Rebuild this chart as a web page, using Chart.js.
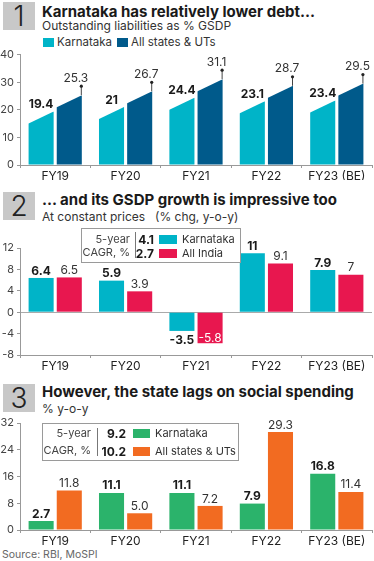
<!DOCTYPE html>
<html>
<head>
<meta charset="utf-8">
<script src="https://cdn.jsdelivr.net/npm/chart.js@4.4.1/dist/chart.umd.min.js"></script>
<style>
  body { margin: 0; background: #fff; font-family: Inter, sans-serif; color: #1a1a1a; }
  #page { position: relative; width: 374px; height: 561px; overflow: hidden; }
  canvas { position: absolute; left: 0; }
  .num { position: absolute; left: 3px; width: 32px; height: 28px; background: #c8c8c8;
         font-size: 28px; font-weight: 300; line-height: 29px; text-align: center; color: #222; }
  .title { position: absolute; left: 42px; font-size: 15px; font-weight: 700; white-space: nowrap; line-height: 18px; }
  .sub { position: absolute; left: 42px; font-size: 12px; color: #333; white-space: nowrap; line-height: 14px; }
  .t { position: absolute; font-size: 11px; color: #333; white-space: nowrap; line-height: 13px; }
  .c { font-size: 11px; color: #444; }
  .sq { position: absolute; height: 9px; }
  .box { position: absolute; border: 1px solid #9a9a9a; background: #fff; }
  .sep { position: absolute; width: 1px; background: #777; }
  .r { text-align: right; }
  .b { font-weight: 700; color: #1a1a1a; font-size: 12px; }
</style>
</head>
<body>
<div id="page">
  <div class="num" style="top:2px">1</div>
  <div class="title" style="top:3px">Karnataka has relatively lower debt...</div>
  <div class="sub" style="top:19px">Outstanding liabilities as % GSDP</div>
  <div class="sq" style="left:43px;top:38px;width:11px;background:#00b4c8"></div>
  <div class="t" style="left:57px;top:36px;font-size:11.5px">Karnataka</div>
  <div class="sq" style="left:117px;top:38px;width:11px;background:#005a8b"></div>
  <div class="t" style="left:131px;top:36px;font-size:11.5px">All states &amp; UTs</div>
  <canvas id="debt" width="374" height="135" style="top:45px"></canvas>

  <div class="num" style="top:192px">2</div>
  <div class="title" style="top:191px">... and its GSDP growth is impressive too</div>
  <div class="sub" style="top:210px">At constant prices</div>
  <div class="sub" style="top:210px;left:155px">(% chg, y-o-y)</div>
  <canvas id="gsdp" width="374" height="140" style="top:232px"></canvas>
  <div class="box" style="left:81px;top:228px;width:158px;height:33px"></div>
  <div class="t r c" style="left:60px;width:70px;top:233px">5-year</div>
  <div class="t r c" style="left:60px;width:70px;top:246px">CAGR, %</div>
  <div class="sep" style="left:135px;top:232px;height:26px"></div>
  <div class="t r b" style="left:131px;width:23px;top:233px" id="g1"></div>
  <div class="t r b" style="left:131px;width:23px;top:247px" id="g2"></div>
  <div class="sq" style="left:159px;top:235px;width:18px;background:#00b4c8"></div>
  <div class="sq" style="left:159px;top:249px;width:18px;background:#e8174f"></div>
  <div class="t" style="left:182px;top:233px">Karnataka</div>
  <div class="t" style="left:182px;top:247px">All India</div>

  <div class="num" style="top:384px">3</div>
  <div class="title" style="top:383px">However, the state lags on social spending</div>
  <div class="sub" style="top:402px">% y-o-y</div>
  <canvas id="social" width="374" height="140" style="top:407px"></canvas>
  <div class="box" style="left:42px;top:423px;width:195px;height:36px"></div>
  <div class="t r c" style="left:30px;width:61px;top:427px">5-year</div>
  <div class="t r c" style="left:30px;width:61px;top:444px">CAGR, %</div>
  <div class="sep" style="left:97px;top:428px;height:28px"></div>
  <div class="t r b" style="left:98px;width:28px;top:427px" id="s1"></div>
  <div class="t r b" style="left:98px;width:28px;top:445px" id="s2"></div>
  <div class="sq" style="left:133px;top:429px;width:17px;background:#2bb36b"></div>
  <div class="sq" style="left:133px;top:447px;width:17px;background:#f26b21"></div>
  <div class="t" style="left:155px;top:427px">Karnataka</div>
  <div class="t" style="left:155px;top:445px">All states &amp; UTs</div>

  <div class="t" style="left:2px;top:548px;color:#666;font-size:10.5px">Source: RBI, MoSPI</div>
</div>
<script>
const years = ['FY19', 'FY20', 'FY21', 'FY22', 'FY23 (BE)'];

// 1. outstanding liabilities, % of GSDP
const debtKarnataka = [19.4, 21, 24.4, 23.1, 23.4];
const debtAllStates = [25.3, 26.7, 31.1, 28.7, 29.5];

// 2. GSDP growth at constant prices, % y-o-y
const gsdpKarnataka = [6.4, 5.9, -3.5, 11, 7.9];
const gsdpAllIndia = [6.5, 3.9, -5.8, 9.1, 7];
const gsdpCagr = [4.1, 2.7];

// 3. social sector spending, % y-o-y
const socialKarnataka = [2.7, 11.1, 11.1, 7.9, 16.8];
const socialAllStates = [11.8, 5.0, 7.2, 29.3, 11.4];
const socialCagr = [9.2, 10.2];

document.getElementById('g1').textContent = gsdpCagr[0];
document.getElementById('g2').textContent = gsdpCagr[1];
document.getElementById('s1').textContent = socialCagr[0].toFixed(1);
document.getElementById('s2').textContent = socialCagr[1].toFixed(1);

Chart.defaults.font.family = 'Inter, sans-serif';
Chart.defaults.animation = false;

// white triangle over each bar top so it slopes up to the right, plus the pin on the dark bars
const slantTops = {
  id: 'slantTops',
  afterDatasetsDraw(chart) {
    const ctx = chart.ctx;
    ctx.save();
    chart.data.datasets.forEach((ds, i) => {
      chart.getDatasetMeta(i).data.forEach((bar) => {
        const l = bar.x - bar.width / 2, r = bar.x + bar.width / 2;
        ctx.fillStyle = '#fff';
        ctx.beginPath();
        ctx.moveTo(l - 1, bar.y - 1);
        ctx.lineTo(r + 1, bar.y - 1);
        ctx.lineTo(r, bar.y);
        ctx.lineTo(l, bar.y + 12);
        ctx.lineTo(l - 1, bar.y + 12);
        ctx.closePath();
        ctx.fill();
        if (i === 1) {
          ctx.strokeStyle = '#444';
          ctx.lineWidth = 1;
          ctx.beginPath();
          ctx.moveTo(r - 0.5, bar.y);
          ctx.lineTo(r - 0.5, bar.y - 9);
          ctx.stroke();
          ctx.fillStyle = '#222';
          ctx.beginPath();
          ctx.arc(r - 0.5, bar.y - 9, 1.6, 0, Math.PI * 2);
          ctx.fill();
        }
      });
    });
    ctx.restore();
  }
};

// value labels; opts.styles has one entry per dataset
const barLabels = {
  id: 'barLabels',
  afterDatasetsDraw(chart, args, opts) {
    const ctx = chart.ctx;
    ctx.save();
    ctx.textAlign = 'center';
    chart.data.datasets.forEach((ds, i) => {
      const st = opts.styles[i];
      chart.getDatasetMeta(i).data.forEach((bar, j) => {
        const v = ds.data[j];
        const txt = opts.fmt(v);
        ctx.font = (st.bold ? '700 ' : '400 ') + '12px Inter, sans-serif';
        ctx.fillStyle = st.color;
        let x = bar.x, y;
        if (opts.pin && i === 1) {
          x = bar.x + bar.width / 2 - 6;
          ctx.textBaseline = 'bottom';
          y = bar.y - 11;
        } else if (v >= 0) {
          ctx.textBaseline = 'bottom';
          y = bar.y - 1;
        } else if (st.inside) {
          ctx.fillStyle = '#fff';
          ctx.textBaseline = 'bottom';
          y = bar.y + 1;
        } else {
          ctx.textBaseline = 'top';
          y = bar.y + 3;
        }
        ctx.fillText(txt, x, y);
      });
    });
    ctx.restore();
  }
};

function barOptions(min, max, step, padTop, xHeight, labelOpts) {
  return {
    responsive: false,
    layout: { padding: { top: padTop, right: 2, left: 0, bottom: 0 } },
    plugins: { legend: { display: false }, tooltip: { enabled: false }, barLabels: labelOpts },
    scales: {
      x: {
        afterFit: (s) => { s.height = xHeight; },
        grid: { offset: true, drawOnChartArea: false, tickLength: 3, color: '#999' },
        border: { color: '#999' },
        ticks: { autoSkip: false, maxRotation: 0, padding: 1, color: '#222', font: { size: 12 } }
      },
      y: {
        min: min, max: max,
        afterFit: (s) => { s.width = 20; },
        grid: {
          tickLength: 3,
          tickColor: '#999',
          color: (c) => (c.tick && c.tick.value === 0 && min < 0) ? '#aaa' : 'transparent'
        },
        border: { color: '#999' },
        ticks: { stepSize: step, padding: 3, color: '#444', font: { size: 11 } }
      }
    }
  };
}

const barCat = 0.8, barPct = 0.89;

new Chart(document.getElementById('debt'), {
  type: 'bar',
  data: {
    labels: years,
    datasets: [
      { label: 'Karnataka', data: debtKarnataka, backgroundColor: '#00b4c8', categoryPercentage: barCat, barPercentage: barPct },
      { label: 'All states & UTs', data: debtAllStates, backgroundColor: '#005a8b', categoryPercentage: barCat, barPercentage: barPct }
    ]
  },
  options: barOptions(0, 40, 10, 8, 15, {
    pin: true,
    fmt: (v) => String(v),
    styles: [{ bold: true, color: '#1a1a1a' }, { bold: false, color: '#333' }]
  }),
  plugins: [slantTops, barLabels]
});

new Chart(document.getElementById('gsdp'), {
  type: 'bar',
  data: {
    labels: years,
    datasets: [
      { label: 'Karnataka', data: gsdpKarnataka, backgroundColor: '#00b4c8', categoryPercentage: barCat, barPercentage: barPct },
      { label: 'All India', data: gsdpAllIndia, backgroundColor: '#e8174f', categoryPercentage: barCat, barPercentage: barPct }
    ]
  },
  options: barOptions(-8, 12, 4, 16, 17, {
    fmt: (v) => String(v),
    styles: [{ bold: true, color: '#1a1a1a' }, { bold: false, color: '#333', inside: true }]
  }),
  plugins: [barLabels]
});

new Chart(document.getElementById('social'), {
  type: 'bar',
  data: {
    labels: years,
    datasets: [
      { label: 'Karnataka', data: socialKarnataka, backgroundColor: '#2bb36b', categoryPercentage: barCat, barPercentage: barPct },
      { label: 'All states & UTs', data: socialAllStates, backgroundColor: '#f26b21', categoryPercentage: barCat, barPercentage: barPct }
    ]
  },
  options: barOptions(0, 32, 8, 16, 17, {
    fmt: (v) => v.toFixed(1),
    styles: [{ bold: true, color: '#1a1a1a' }, { bold: false, color: '#333' }]
  }),
  plugins: [barLabels]
});
</script>
</body>
</html>
